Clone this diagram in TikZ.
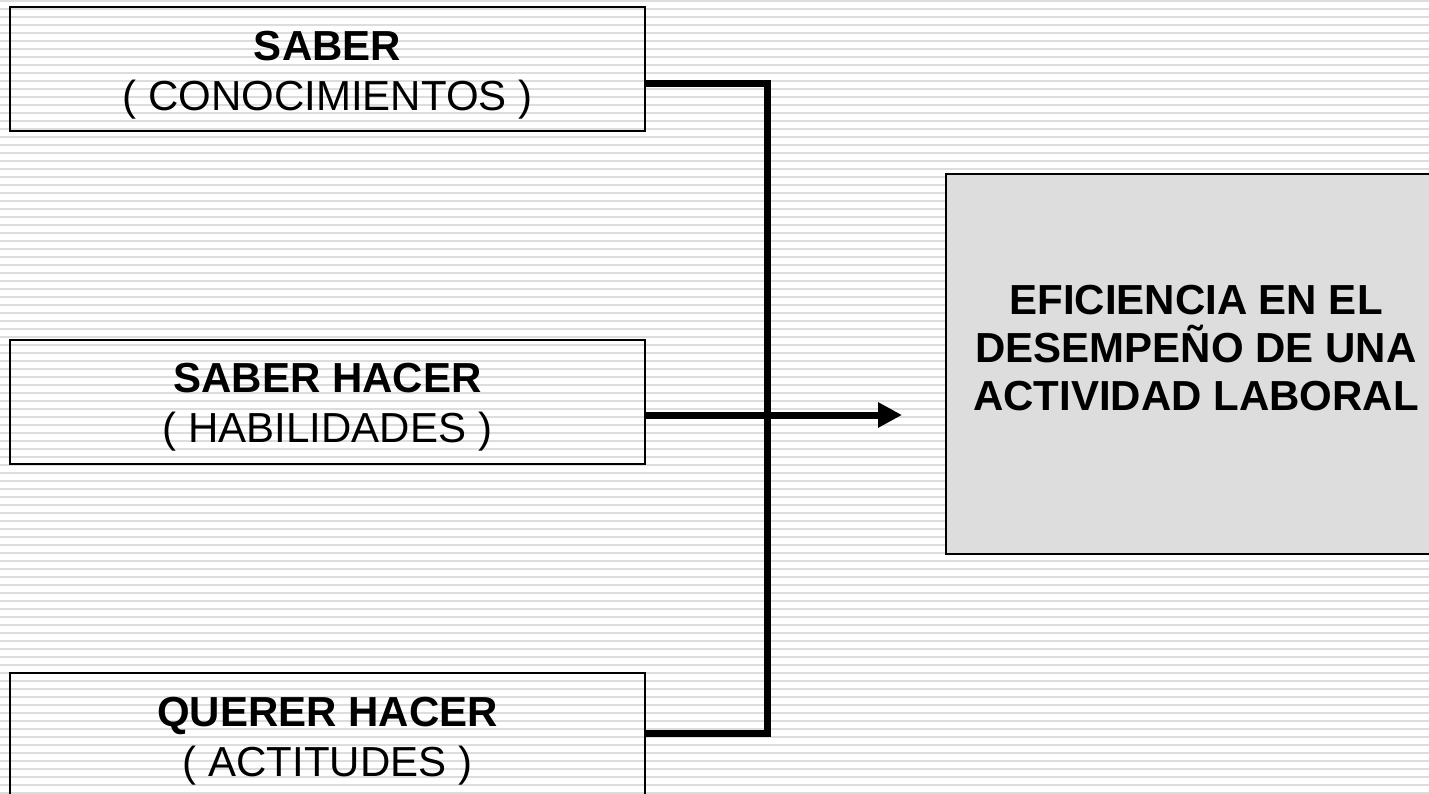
\documentclass[tikz,border=0pt]{standalone}
\usepackage{fontspec}
\setmainfont{Liberation Sans}
\usetikzlibrary{arrows.meta}
\definecolor{stripegray}{HTML}{DDDDDD}
\definecolor{boxgray}{HTML}{DDDDDD}
\tikzset{
  stripe/.style={draw=stripegray, line width=2pt},
  kbox/.style={draw=black, line width=2pt, minimum width=635pt, minimum height=124pt, inner sep=0pt},
  ktext/.style={align=center, inner sep=0pt, font=\fontsize{42}{50}\selectfont},
  resbox/.style={draw=black, line width=2.5pt, fill=boxgray, minimum width=500pt, minimum height=380pt, inner sep=0pt},
  restext/.style={align=center, font=\fontsize{42}{48}\selectfont\bfseries, inner sep=0pt},
  conn/.style={draw=black, line width=7pt, line join=miter}
}
\begin{document}
\begin{tikzpicture}[x=1pt,y=-1pt]
\useasboundingbox (0,0) rectangle (1429,793);
\clip (0,0) rectangle (1429,793);
\fill[white] (0,0) rectangle (1429,793);
\foreach \k in {0,...,99} \draw[stripe] (0,8*\k+1) -- (1429,8*\k+1);
\node[kbox] (b1) at (327.5,69) {};
\node[kbox] (b2) at (327.5,401.5) {};
\node[kbox] (b3) at (327.5,735) {};
\node[ktext] (t1) at (327.5,75) {\textbf{SABER}\\( CONOCIMIENTOS )};
\node[ktext] (t2) at (327.5,407.5) {\textbf{SABER HACER}\\( HABILIDADES )};
\node[ktext] (t3) at (327.5,741) {\textbf{QUERER HACER}\\( ACTITUDES )};
\node[resbox] (res) at (1196,364) {};
\node[restext] (rest) at (1196,348) {EFICIENCIA EN EL\\DESEMPEÑO DE UNA\\ACTIVIDAD LABORAL};
\coordinate (jt) at (767,83);
\coordinate (jb) at (767,733);
\coordinate (tip) at (902,415);
\draw[conn] (b1.east |- jt) -- (jt) -- (jb) -- (b3.east |- jb);
\draw[conn, -{Triangle[length=24pt,width=24pt]}] (b2.east |- tip) -- (tip);
\end{tikzpicture}
\end{document}
